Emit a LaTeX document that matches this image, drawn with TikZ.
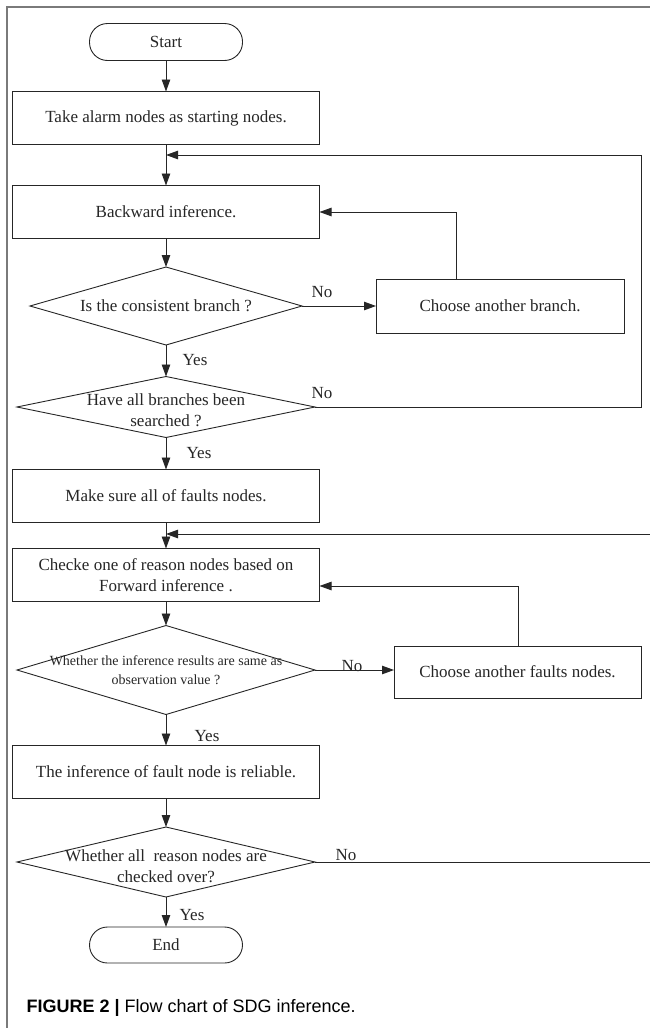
\documentclass[tikz,border=0pt]{standalone}
\usepackage{fontspec}
\setmainfont{Liberation Serif}
\newfontfamily\capfont{Liberation Sans}
\usetikzlibrary{shapes.geometric,arrows.meta}
\definecolor{ink}{HTML}{262626}
\definecolor{frame}{HTML}{7A7A7A}
\begin{document}
\begin{tikzpicture}[x=1pt,y=-1pt,
  every node/.style={font=\fontsize{17}{21}\selectfont, text=ink},
  line/.style={draw=ink, line width=0.9pt},
  arr/.style={line, -{Triangle[length=12pt,width=8.5pt]}},
  procbox/.style={draw=ink, line width=0.9pt, rectangle, minimum width=307pt, minimum height=53pt, inner sep=0pt, outer sep=0pt, align=center},
  termbox/.style={draw=ink, line width=0.9pt, rectangle, rounded corners=18pt, minimum width=153pt, minimum height=37pt, inner sep=0pt, outer sep=0pt},
  decision/.style={draw=ink, line width=0.9pt, diamond, aspect=1, inner sep=0pt, outer sep=0pt},
  dtext/.style={align=center, inner sep=0pt},
  lab/.style={inner sep=0pt}
]
\useasboundingbox (0,0) rectangle (650,1028);
% frame
\draw[frame, line width=1.5pt] (650,7) -- (7,7) -- (7,1028);

\node[termbox] (start) at (166,42) {Start};
\node[procbox] (b1) at (166,118) {Take alarm nodes as starting nodes.};
\node[procbox] (b2) at (166,212) {Backward inference.};
\node[decision, minimum width=272pt, minimum height=78pt] (d1) at (166,306) {};
\node[dtext] (d1t) at (d1) {Is the consistent branch ?};
\node[procbox, minimum width=248pt, minimum height=54pt] (cb) at (500,306) {Choose another branch.};
\node[decision, minimum width=298pt, minimum height=61pt] (d2) at (166,407) {};
\node[dtext] (d2t) at (166,410) {Have all branches been\\searched ?};
\node[procbox] (b3) at (166,496) {Make sure all of faults nodes.};
\node[procbox] (b4) at (166,575) {Checke one of reason nodes based on\\Forward inference .};
\node[decision, minimum width=298pt, minimum height=89pt] (d3) at (166,670) {};
\node[dtext, font=\fontsize{14}{19}\selectfont] (d3t) at (d3) {Whether the inference results are same as\\observation value ?};
\node[procbox, minimum width=247pt, minimum height=52pt] (cf) at (517.5,672) {Choose another faults nodes.};
\node[procbox] (b5) at (166,772) {The inference of fault node is reliable.};
\node[decision, minimum width=298pt, minimum height=70pt] (d4) at (166,862) {};
\node[dtext] (d4t) at (166,866) {Whether all~ reason nodes are\\checked over?};
\node[termbox, minimum height=36pt] (end) at (166,945) {End};

% labels
\node[lab] (no1) at (322,292) {No};
\node[lab] (yes1) at (195,360) {Yes};
\node[lab] (no2) at (322,393) {No};
\node[lab] (yes2) at (199,453) {Yes};
\node[lab] (no3) at (352,666) {No};
\node[lab] (yes3) at (207,736) {Yes};
\node[lab] (no4) at (346,855) {No};
\node[lab] (yes4) at (192,915) {Yes};

% coordinates
\coordinate (r1) at (456,212);
\coordinate (lp1) at (641,155);
\coordinate (j1) at (166,155);
\coordinate (lp2) at (650,534);
\coordinate (j2) at (166,534);
\coordinate (r2) at (518,586);
\coordinate (lp3) at (650,862);

% connectors
\draw[arr] (start) -- (b1);
\draw[arr] (b1) -- (b2);
\draw[arr] (b2) -- (d1);
\draw[arr] (d1.east) -- (cb.west);
\draw[arr] (cb.north -| r1) -- (r1) -- (b2.east);
\draw[arr] (d1) -- (d2);
\draw[arr] (d2.east) -| (lp1) -- (j1);
\draw[arr] (d2) -- (b3);
\draw[arr] (b3) -- (b4);
\draw[arr] (lp2) -- (j2);
\draw[arr] (b4) -- (d3);
\draw[arr] (d3.east) -- (d3.east -| cf.west);
\draw[arr] (cf.north -| r2) -- (r2) -- (b4.east |- r2);
\draw[arr] (d3) -- (b5);
\draw[arr] (b5) -- (d4);
\draw[line] (d4.east) -- (lp3);
\draw[arr] (d4) -- (end);

% caption
\node[anchor=west, text=black, font=\capfont\fontsize{18}{21}\selectfont] (cap) at (23,1008) {\textbf{FIGURE 2 |} Flow chart of SDG inference.};
\end{tikzpicture}
\end{document}
